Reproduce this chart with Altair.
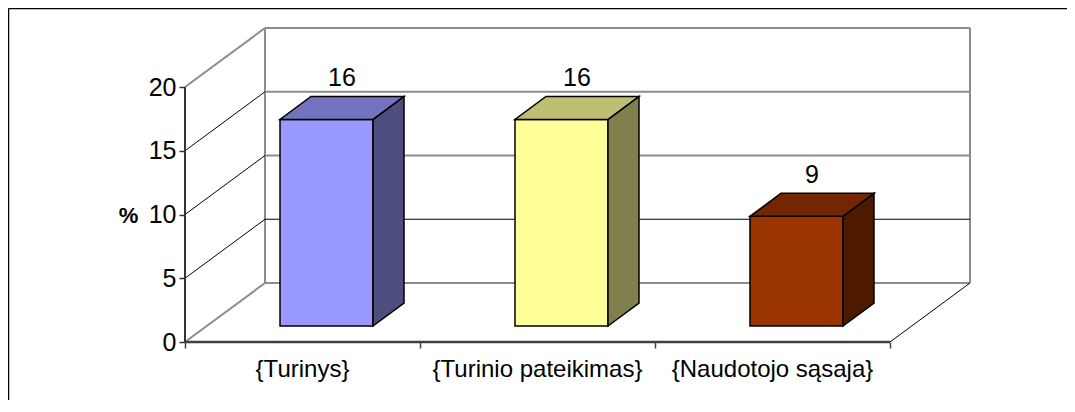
import altair as alt
import pandas as pd

# ---- data ----
categories = ["{Turinys}", "{Turinio pateikimas}", "{Naudotojo sąsaja}"]
values = [16.2, 16.2, 8.6]
front_colors = ["#9999FF", "#FFFF99", "#993300"]
top_colors = ["#7373BF", "#BFBF73", "#732600"]
side_colors = ["#4D4D80", "#80804D", "#4D1A00"]
y_ticks = [0, 5, 10, 15, 20]
y_max = 20

# ---- geometry of the oblique 3D projection (pixels -> data units) ----
CAT_PX = 235.0      # pixels per category on the front plane
UNIT_PX = 12.75     # pixels per value unit
PLOT_W, PLOT_H = 785, 314
WALL_DX = 80 / CAT_PX
WALL_DY = 59 / UNIT_PX
BAR_W = 93 / CAT_PX
BAR_FDX = 24 / CAT_PX
BAR_FDY = 16 / UNIT_PX
BAR_DDX = 31 / CAT_PX
BAR_DDY = 23 / UNIT_PX
n = len(categories)
FONT = "Liberation Sans"
FS = 25

xs = alt.Scale(domain=[0, PLOT_W / CAT_PX], nice=False, zero=False)
ys = alt.Scale(domain=[0, PLOT_H / UNIT_PX], nice=False, zero=False)

Y_AXIS = alt.Axis(
    values=y_ticks, domain=False, grid=False, tickSize=6, tickColor="#333333",
    tickWidth=1.5, labelFont=FONT, labelFontSize=FS, labelColor="#000000",
    labelPadding=3, title="%", titleAngle=0, titleFont=FONT, titleFontSize=22,
    titleFontWeight="bold", titleColor="#000000", titleX=-57, titleY=187,
    titleAlign="center", titleBaseline="middle")
X_AXIS = alt.Axis(
    values=list(range(n + 1)), labels=False, domain=False, grid=False,
    tickSize=6, tickColor="#404040", tickWidth=1.5, title=None)


def X(field):
    return alt.X(field, scale=xs, axis=X_AXIS)


def Y(field, **kw):
    return alt.Y(field, scale=ys, axis=Y_AXIS, **kw)


# ---- walls ----
gray_lines, black_lines = [], []
gray_lines += [
    dict(x=WALL_DX, y=WALL_DY, x2=n + WALL_DX, y2=WALL_DY),
    dict(x=WALL_DX, y=y_max + WALL_DY, x2=n + WALL_DX, y2=y_max + WALL_DY),
    dict(x=WALL_DX, y=WALL_DY, x2=WALL_DX, y2=y_max + WALL_DY),
    dict(x=n + WALL_DX, y=WALL_DY, x2=n + WALL_DX, y2=y_max + WALL_DY),
]
for v in y_ticks:
    diag = dict(x=0, y=v, x2=WALL_DX, y2=v + WALL_DY)
    back = dict(x=WALL_DX, y=v + WALL_DY, x2=n + WALL_DX, y2=v + WALL_DY)
    if v in (0, y_max):
        gray_lines.append(diag)
    else:
        black_lines.append(diag)
        if v == 5:
            black_lines.append(back)
        else:
            gray_lines.append(back)
black_lines.append(dict(x=n, y=0, x2=n + WALL_DX, y2=WALL_DY))

gray_df = pd.DataFrame(gray_lines)
black_df = pd.DataFrame(black_lines)


def rule_layer(df, color, width):
    return alt.Chart(df).mark_rule(color=color, strokeWidth=width).encode(
        x=X("x:Q"), y=Y("y:Q"), x2="x2:Q", y2="y2:Q",
    )


walls_gray = rule_layer(gray_df, "#8C8C8C", 2)
walls_black = rule_layer(black_df, "#000000", 1)

# ---- front axes lines ----
yaxis_df = pd.DataFrame([dict(x=0, y=0, y2=y_max)])
yaxis = alt.Chart(yaxis_df).mark_rule(color="#333333", strokeWidth=2).encode(
    x=X("x:Q"), y=Y("y:Q"), y2="y2:Q",
)
xaxis_df = pd.DataFrame([dict(x=0, x2=n, y=0)])
xaxis = alt.Chart(xaxis_df).mark_rule(color="#404040", strokeWidth=2.5).encode(
    x=X("x:Q"), x2="x2:Q", y=Y("y:Q"),
)

# ---- bars ----
rows, faces = [], []
for i, (c, v) in enumerate(zip(categories, values)):
    xl = i + 0.5 - BAR_W / 2 + BAR_FDX
    xr = xl + BAR_W
    yb = BAR_FDY
    yt = v + BAR_FDY
    rows.append(dict(cat=c, value=v, x0=xl, x1=xr, y0=yb, y1=yt, color=front_colors[i],
                     lx=(xl + xr) / 2 + BAR_DDX / 2, ly=yt + BAR_DDY))
    fid = f"side{i}"
    faces += [
        dict(face=fid, x=xr, y=yb, y2=yt, color=side_colors[i]),
        dict(face=fid, x=xr + BAR_DDX, y=yb + BAR_DDY, y2=yt + BAR_DDY, color=side_colors[i]),
    ]
    fid = f"top{i}"
    faces += [
        dict(face=fid, x=xl, y=yt, y2=yt, color=top_colors[i]),
        dict(face=fid, x=xl + BAR_DDX, y=yt, y2=yt + BAR_DDY, color=top_colors[i]),
        dict(face=fid, x=xr, y=yt, y2=yt + BAR_DDY, color=top_colors[i]),
        dict(face=fid, x=xr + BAR_DDX, y=yt + BAR_DDY, y2=yt + BAR_DDY, color=top_colors[i]),
    ]
bars_df = pd.DataFrame(rows)
faces_df = pd.DataFrame(faces)

front = alt.Chart(bars_df).mark_rect(stroke="#000000", strokeWidth=1.5).encode(
    x=X("x0:Q"), x2="x1:Q", y=Y("y0:Q"), y2="y1:Q",
    fill=alt.Fill("color:N", scale=None),
)

side_top = alt.Chart(faces_df).mark_area(
    orient="vertical", stroke="#000000", strokeWidth=1.5, strokeJoin="miter"
).encode(
    x=X("x:Q"), y=Y("y:Q", stack=None), y2="y2:Q",
    detail="face:N",
    fill=alt.Fill("color:N", scale=None),
)

bar_labels = alt.Chart(bars_df).mark_text(
    font=FONT, fontSize=FS, color="#000000", baseline="alphabetic", align="center", dy=-10
).encode(
    x=X("lx:Q"), y=Y("ly:Q"),
    text=alt.Text("value:Q", format=".0f"),
)

# ---- category labels ----
cat_df = pd.DataFrame(dict(cat=categories, x=[i + 0.5 for i in range(n)], y=[0] * n))
cat_labels = alt.Chart(cat_df).mark_text(
    font=FONT, fontSize=FS - 1, color="#000000", baseline="alphabetic", align="center", dy=35
).encode(
    x=X("x:Q"), y=Y("y:Q"), text="cat:N",
)

# ---- outer frame (top and left edges) ----
frame_df = pd.DataFrame([dict(k=0)])
frame_top = alt.Chart(frame_df).mark_rule(color="#000000", strokeWidth=1.5).encode(
    x=alt.value(-176.5), x2=alt.value(PLOT_W + 97), y=alt.value(-19.5), y2=alt.value(-19.5)
)
frame_left = alt.Chart(frame_df).mark_rule(color="#000000", strokeWidth=1.5).encode(
    x=alt.value(-176.5), x2=alt.value(-176.5), y=alt.value(-19.5), y2=alt.value(PLOT_H + 58)
)

chart = alt.layer(
    walls_gray, walls_black, yaxis, xaxis, frame_top, frame_left,
    front, side_top, bar_labels, cat_labels
).properties(
    width=PLOT_W, height=PLOT_H,
    padding={"left": 177, "top": 20, "right": 97, "bottom": 58},
    autosize=alt.AutoSizeParams(type="none"),
    background="#FFFFFF",
).configure_view(stroke=None)

chart.save("out.html", embed_options={"renderer": "svg", "actions": False})
